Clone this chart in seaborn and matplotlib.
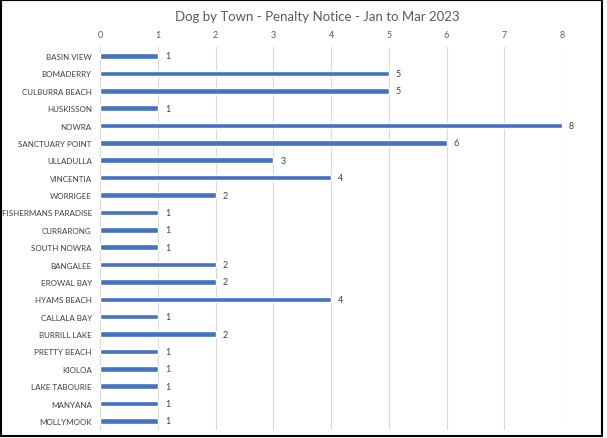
import pandas as pd
import matplotlib
matplotlib.use("Agg")
import matplotlib.pyplot as plt
from matplotlib.patches import Rectangle
import seaborn as sns

# Dog by town - penalty notices, Jan to Mar 2023
towns = ["BASIN VIEW", "BOMADERRY", "CULBURRA BEACH", "HUSKISSON", "NOWRA",
         "SANCTUARY POINT", "ULLADULLA", "VINCENTIA", "WORRIGEE",
         "FISHERMANS PARADISE", "CURRARONG", "SOUTH NOWRA", "BANGALEE",
         "EROWAL BAY", "HYAMS BEACH", "CALLALA BAY", "BURRILL LAKE",
         "PRETTY BEACH", "KIOLOA", "LAKE TABOURIE", "MANYANA", "MOLLYMOOK"]
notices = [1, 5, 5, 1, 8, 6, 3, 4, 2, 1, 1, 1, 2, 2, 4, 1, 2, 1, 1, 1, 1, 1]
x_ticks = [0, 1, 2, 3, 4, 5, 6, 7, 8]

df = pd.DataFrame({"Town": towns, "Notices": notices})

sns.set_theme(style="white")
plt.rcParams["font.family"] = ["Lato", "DejaVu Sans"]

fig = plt.figure(figsize=(6.07, 4.39), dpi=100)
ax = fig.add_axes([0.165, 0.019, 0.761, 0.871])

sns.barplot(data=df, x="Notices", y="Town", color="#4472C4", width=0.32,
            saturation=1, ax=ax, zorder=3)

ax.set_xlim(0, 8)
ax.set_xticks(x_ticks)
ax.xaxis.tick_top()
ax.tick_params(axis="x", length=0, labelsize=6.5, colors="#595959", pad=6)
ax.tick_params(axis="y", length=0, labelsize=5.8, colors="#404040", pad=6)
ax.grid(axis="x", color="#D9D9D9", linewidth=0.8, zorder=0)
ax.set_xlabel("")
ax.set_ylabel("")
for s in ax.spines.values():
    s.set_visible(False)

for i, v in enumerate(notices):
    ax.text(v + 0.12, i, str(v), va="center", ha="left", fontsize=6.5,
            color="#404040")

fig.text(0.523, 0.962, "Dog by Town - Penalty Notice - Jan to Mar 2023",
         ha="center", va="center", fontsize=9.5, color="#595959")

# black frame around the whole chart
fig.patches.append(Rectangle((0.002, 0.004), 0.990, 0.993, transform=fig.transFigure,
                             fill=False, edgecolor="black", linewidth=1.5))

fig.savefig("out.png", dpi=100)
